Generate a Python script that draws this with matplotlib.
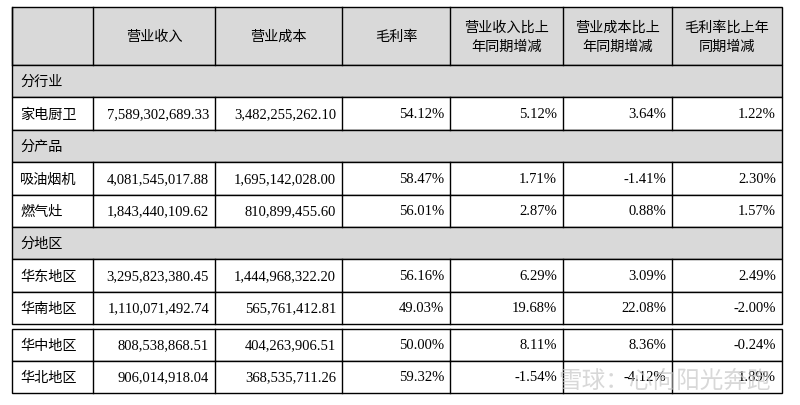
import matplotlib
matplotlib.use("Agg")
import matplotlib.pyplot as plt
from matplotlib.patches import Rectangle

headers = ["", "营业收入", "营业成本", "毛利率", "营业收入比上\n年同期增减", "营业成本比上\n年同期增减", "毛利率比上年\n同期增减"]
rows = [
    ("section", "分行业"),
    ("data", "家电厨卫", "7,589,302,689.33", "3,482,255,262.10", "54.12%", "5.12%", "3.64%", "1.22%"),
    ("section", "分产品"),
    ("data", "吸油烟机", "4,081,545,017.88", "1,695,142,028.00", "58.47%", "1.71%", "-1.41%", "2.30%"),
    ("data", "燃气灶", "1,843,440,109.62", "810,899,455.60", "56.01%", "2.87%", "0.88%", "1.57%"),
    ("section", "分地区"),
    ("data", "华东地区", "3,295,823,380.45", "1,444,968,322.20", "56.16%", "6.29%", "3.09%", "2.49%"),
    ("data", "华南地区", "1,110,071,492.74", "565,761,412.81", "49.03%", "19.68%", "22.08%", "-2.00%"),
    ("data", "华中地区", "808,538,868.51", "404,263,906.51", "50.00%", "8.11%", "8.36%", "-0.24%"),
    ("data", "华北地区", "906,014,918.04", "368,535,711.26", "59.32%", "-1.54%", "-4.12%", "1.89%"),
]

colx = [12, 93, 215, 342, 450, 563, 672, 782]

fig = plt.figure(figsize=(8, 4.06), dpi=100)
ax = fig.add_axes([0, 0, 1, 1])
ax.set_xlim(0, 800); ax.set_ylim(406, 0); ax.axis("off")
gray = "#d9d9d9"
cjk = ["Noto Sans CJK SC", "DejaVu Sans"]
num = ["Liberation Serif"]
fs = 10.2
lw = 1.0

ax.add_patch(Rectangle((colx[0], 8), colx[-1]-colx[0], 58, fc=gray, ec="black", lw=lw))
for i, h in enumerate(headers):
    if h:
        ax.text((colx[i]+colx[i+1])/2, 37, h, ha="center", va="center", fontsize=fs, family=cjk, linespacing=1.5)
    ax.plot([colx[i], colx[i]], [8, 66], color="black", lw=lw)

ys = [(66, 98), (98, 131), (131, 163), (163, 196), (196, 228), (228, 260), (260, 293), (293, 325), (330, 362), (362, 394)]
for (y0, y1), r in zip(ys, rows):
    if r[0] == "section":
        ax.add_patch(Rectangle((colx[0], y0), colx[-1]-colx[0], y1-y0, fc=gray, ec="black", lw=lw))
        ax.text(colx[0]+8, (y0+y1)/2, r[1], ha="left", va="center", fontsize=fs, family=cjk)
    else:
        ax.add_patch(Rectangle((colx[0], y0), colx[-1]-colx[0], y1-y0, fc="white", ec="black", lw=lw))
        for c in range(1, 7):
            ax.plot([colx[c], colx[c]], [y0, y1], color="black", lw=lw)
        ax.text(colx[0]+8, (y0+y1)/2, r[1], ha="left", va="center", fontsize=fs, family=cjk)
        for c, v in enumerate(r[2:], start=1):
            ax.text(colx[c+1]-6, (y0+y1)/2, v, ha="right", va="center", fontsize=10.5, family=num)

ax.text(665, 381, "雪球：心向阳光奔跑", ha="center", va="center", fontsize=17, family=cjk, color="#c8c8c8", alpha=0.7)
fig.savefig("out.png", dpi=100)
